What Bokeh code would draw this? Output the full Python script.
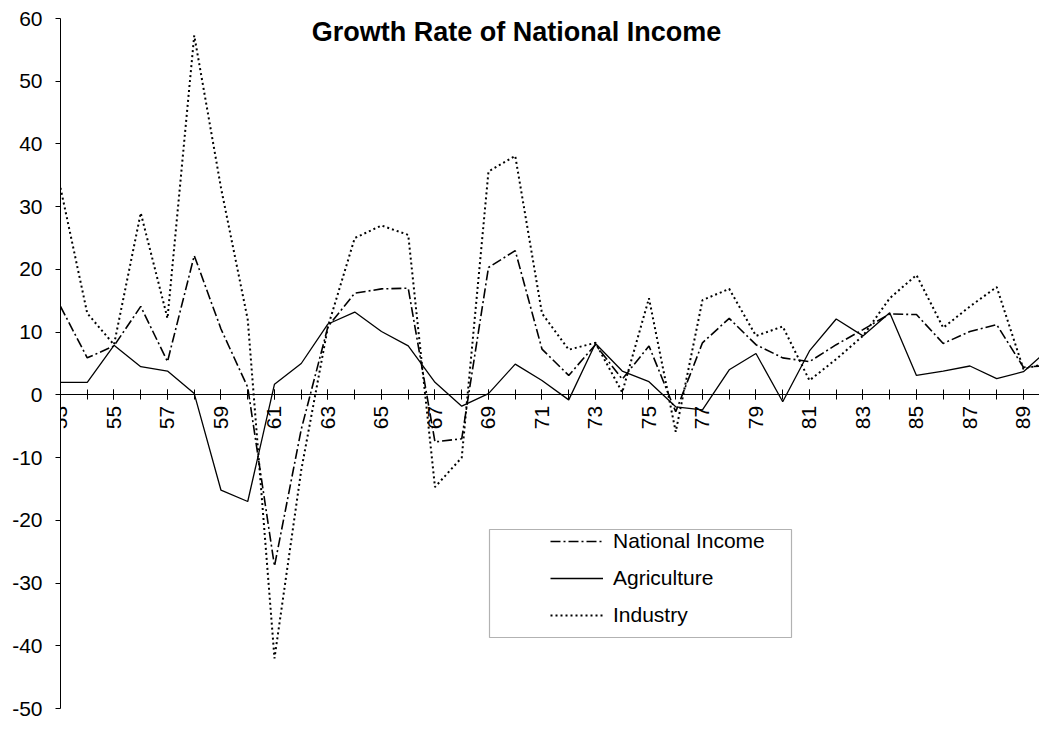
import math
from bokeh.plotting import figure
from bokeh.models import FixedTicker, Range1d, Legend, LegendItem, BoxAnnotation, Label
from bokeh.embed import file_html
from bokeh.resources import INLINE

# ---- data ----
years = list(range(53, 91))
national_income = [14.1, 5.9, 7.8, 14.1, 5.3, 22.2, 10.5, 1.2, -27.3, -5.5,
                   10.9, 16.2, 16.9, 17.0, -7.5, -7.0, 20.3, 23.0, 7.3, 3.1,
                   8.0, 2.5, 7.8, -2.7, 8.3, 12.2, 8.0, 5.9, 5.3, 8.0,
                   10.4, 12.9, 12.8, 8.2, 10.1, 11.2, 4.4, 4.7]
agriculture = [2.0, 2.0, 7.9, 4.5, 3.8, 0.2, -15.2, -17.0, 1.7, 5.0,
               11.3, 13.2, 10.1, 7.8, 2.0, -1.8, 0.2, 4.9, 2.3, -0.8,
               8.2, 3.8, 2.1, -1.9, -2.4, 4.0, 6.6, -1.1, 7.0, 12.1,
               9.4, 13.1, 3.1, 3.8, 4.6, 2.6, 3.7, 7.5]
industry = [33.0, 13.0, 8.0, 29.0, 12.2, 57.3, 33.0, 12.0, -42.0, -12.0,
            10.9, 25.0, 27.0, 25.5, -14.7, -10.0, 35.6, 38.1, 13.0, 7.2,
            8.3, 0.4, 15.4, -5.9, 15.1, 16.9, 9.4, 10.9, 2.3, 5.7,
            9.4, 15.4, 19.1, 10.7, 14.1, 17.2, 4.1, 5.2]
x_label_years = list(range(53, 91, 2))
y_ticks = list(range(-50, 61, 10))
y_tick_labels = {t: str(t) for t in y_ticks}
title_text = "Growth Rate of National Income"
series_names = ["National Income", "Agriculture", "Industry"]

FONT = "Liberation Sans"
X_END = 89.6

p = figure(width=1039, height=719,
           x_range=Range1d(53, X_END), y_range=Range1d(-50, 60),
           output_backend="svg", toolbar_location=None,
           min_border_left=60, min_border_right=0,
           min_border_top=18, min_border_bottom=11)
p.outline_line_color = None
p.grid.visible = False
p.background_fill_color = "white"
p.border_fill_color = "white"

# x axis crossing at y = 0
xa = p.xaxis[0]
xa.fixed_location = 0
xa.ticker = FixedTicker(ticks=x_label_years, minor_ticks=years)
xa.major_label_orientation = math.pi / 2
xa.major_label_text_font = FONT
xa.major_label_text_font_size = "21px"
xa.major_label_text_color = "black"
xa.major_label_standoff = 6
xa.axis_line_color = "black"
xa.axis_line_width = 1
xa.major_tick_in = 5
xa.major_tick_out = 5
xa.minor_tick_in = 5
xa.minor_tick_out = 5
xa.major_tick_line_color = "black"
xa.minor_tick_line_color = "black"

ya = p.yaxis[0]
ya.ticker = FixedTicker(ticks=y_ticks)
ya.major_label_overrides = y_tick_labels
ya.major_label_text_font = FONT
ya.major_label_text_font_size = "21px"
ya.major_label_text_color = "black"
ya.major_label_standoff = 13
ya.major_tick_in = 0
ya.major_tick_out = 5
ya.minor_tick_line_color = None
ya.axis_line_color = "black"
ya.major_tick_line_color = "black"

r_ni = p.line(years, national_income, line_color="black", line_width=1.6,
              line_dash="10 3 2 3")
r_ag = p.line(years, agriculture, line_color="black", line_width=1.3)
r_in = p.line(years, industry, line_color="black", line_width=2,
              line_dash="2 3")

# pixel -> data helpers for annotation placement (frame: 60..1039 x, 18..708 y)
sx = (1039 - 60) / (X_END - 53)
sy = (708 - 18) / 110.0


def dx(px):
    return 53 + (px - 60) / sx


def dy(py):
    return 60 - (py - 18) / sy


title = Label(x=dx(516), y=dy(31), text=title_text, text_align="center",
              text_baseline="middle", text_font=FONT, text_font_size="27px",
              text_font_style="bold", text_color="black")
p.add_layout(title)

box = BoxAnnotation(left=dx(489), right=dx(791), top=dy(529), bottom=dy(637),
                    fill_alpha=0, line_color="black", line_width=1.2)
p.add_layout(box)

legend = Legend(items=[LegendItem(label=series_names[0], renderers=[r_ni]),
                       LegendItem(label=series_names[1], renderers=[r_ag]),
                       LegendItem(label=series_names[2], renderers=[r_in])],
                location=(490, 81))
legend.border_line_color = None
legend.background_fill_alpha = 0
legend.padding = 0
legend.margin = 0
legend.spacing = 13
legend.glyph_width = 53
legend.glyph_height = 20
legend.label_height = 20
legend.label_standoff = 10
legend.label_text_font = FONT
legend.label_text_font_size = "21px"
legend.label_text_color = "black"
p.add_layout(legend)

open("out.html", "w").write(file_html(p, INLINE))
